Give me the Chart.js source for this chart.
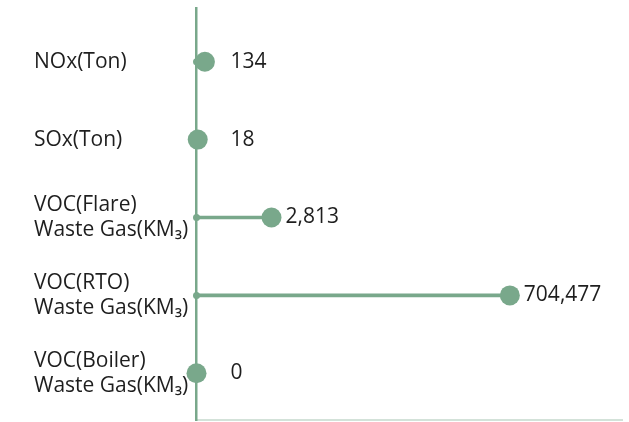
<!DOCTYPE html>
<html>
<head>
<meta charset="utf-8">
<script src="https://cdn.jsdelivr.net/npm/chart.js@4"></script>
<style>
  html, body { margin: 0; padding: 0; background: #fff; }
  #wrap { width: 629px; height: 422px; }
</style>
</head>
<body>
<div id="wrap"><canvas id="emissionChart"></canvas></div>
<script>
// data
const categories = [
  'NOx(Ton)',
  'SOx(Ton)',
  ['VOC(Flare)', 'Waste Gas(KM\u2083)'],
  ['VOC(RTO)', 'Waste Gas(KM\u2083)'],
  ['VOC(Boiler)', 'Waste Gas(KM\u2083)'],
]
const values = [134, 18, 2813, 704477, 0]
const baseValues = [0, 0, 0, 0, 0]

const green = '#79a88b'
const SYMLOG_C = 650

// symlog x scale so small and huge values both show
class SymlogScale extends Chart.LinearScale {
  static id = 'symlog'
  static defaults = Chart.LinearScale.defaults
  _t(v) {
    return Math.log1p(Math.max(v, 0) / SYMLOG_C)
  }
  getPixelForValue(value) {
    const a = this._t(this.min)
    const b = this._t(this.max)
    return this.getPixelForDecimal((this._t(value) - a) / (b - a))
  }
  getValueForPixel(pixel) {
    const a = this._t(this.min)
    const b = this._t(this.max)
    const t = a + this.getDecimalForPixel(pixel) * (b - a)
    return Math.expm1(t) * SYMLOG_C
  }
}
Chart.register(SymlogScale)

const valueLabels = {
  id: 'valueLabels',
  afterDatasetsDraw(chart) {
    const ctx = chart.ctx
    const meta = chart.getDatasetMeta(0)
    const area = chart.chartArea
    ctx.save()
    ctx.font = '21px "Open Sans"'
    ctx.fillStyle = '#1e1e1e'
    ctx.textAlign = 'left'
    ctx.textBaseline = 'middle'
    meta.data.forEach((pt, i) => {
      const x = Math.max(pt.x + 14, area.left + 34)
      ctx.fillText(values[i].toLocaleString('en-US'), x, pt.y)
    })
    ctx.restore()
  },
}

const ctx = document.getElementById('emissionChart').getContext('2d')
const myChart = new Chart(ctx, {
  type: 'bar',
  data: {
    datasets: [
      {
        type: 'line',
        label: 'value',
        data: values.map((v, i) => ({ x: v, y: i })),
        showLine: false,
        clip: false,
        pointRadius: 10,
        pointHoverRadius: 10,
        pointBackgroundColor: green,
        pointBorderWidth: 0,
        order: 0,
      },
      {
        type: 'line',
        label: 'base',
        data: baseValues.map((v, i) => ({ x: v, y: i })),
        showLine: false,
        clip: false,
        pointRadius: 3.5,
        pointBackgroundColor: green,
        pointBorderWidth: 0,
        order: 1,
      },
      {
        label: 'stem',
        data: values.map((v, i) => ({ x: v, y: i })),
        backgroundColor: green,
        barThickness: 3,
        clip: false,
        order: 2,
      },
    ],
  },
  options: {
    indexAxis: 'y',
    responsive: true,
    maintainAspectRatio: false,
    animation: false,
    layout: { autoPadding: false, padding: { left: 34, top: 8, right: 7, bottom: 2 } },
    plugins: {
      legend: { display: false },
      tooltip: { enabled: false },
    },
    scales: {
      x: {
        type: 'symlog',
        min: 0,
        max: 8600000,
        grid: { display: false, drawTicks: false },
        ticks: { display: false },
        border: { display: true, color: '#d3e2d9', width: 2 },
        afterFit: (s) => {
          s.height = 0
          s.paddingLeft = 0
          s.paddingRight = 0
        },
      },
      y: {
        type: 'linear',
        reverse: true,
        offset: false,
        min: -0.69,
        max: 4.6,
        grid: { display: false, drawTicks: false },
        border: { display: true, color: green, width: 2.5 },
        afterBuildTicks: (s) => {
          s.ticks = categories.map((c, i) => ({ value: i }))
        },
        ticks: {
          crossAlign: 'far',
          color: '#1e1e1e',
          font: { family: '"Open Sans"', size: 21, lineHeight: 1.2 },
          callback: (v) => categories[v],
        },
        afterFit: (s) => {
          s.width = 162.5
          s.paddingTop = 0
          s.paddingBottom = 0
        },
      },
    },
  },
  plugins: [valueLabels],
})
</script>
</body>
</html>
